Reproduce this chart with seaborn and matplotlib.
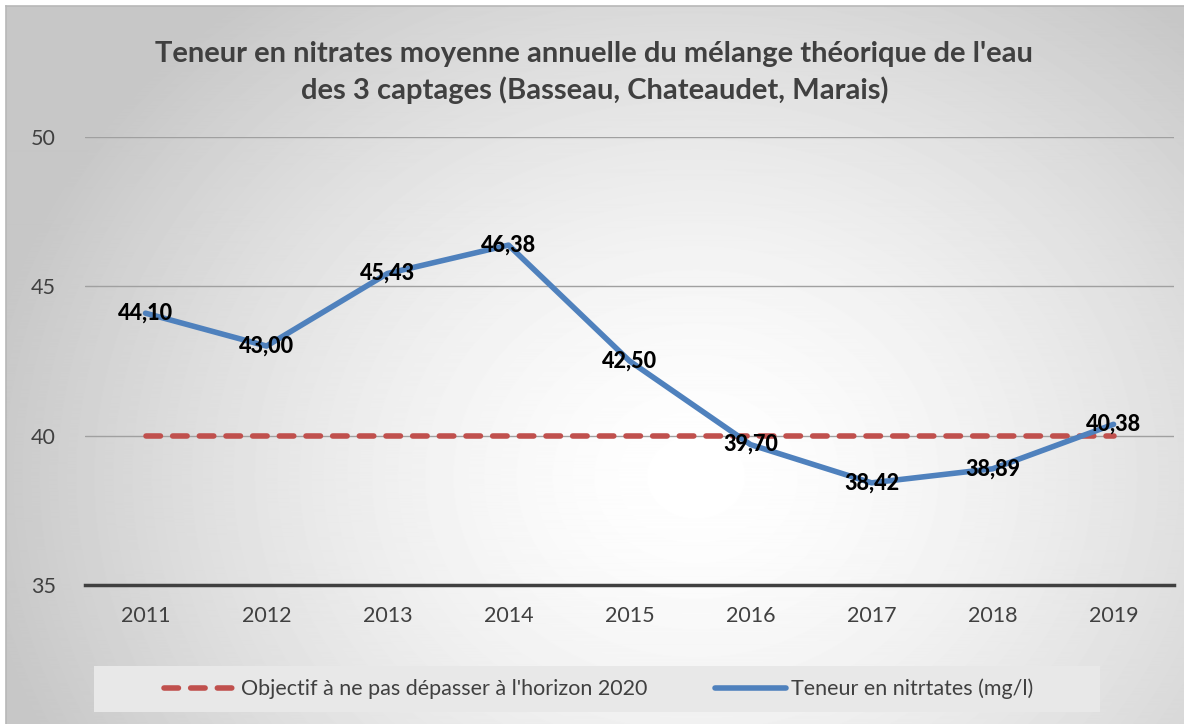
import numpy as np
import pandas as pd
import matplotlib.pyplot as plt
import seaborn as sns
from matplotlib.lines import Line2D
from matplotlib.patches import Rectangle

years = ['2011', '2012', '2013', '2014', '2015', '2016', '2017', '2018', '2019']
nitrates = [44.10, 43.00, 45.43, 46.38, 42.50, 39.70, 38.42, 38.89, 40.38]
objectif = [40, 40, 40, 40, 40, 40, 40, 40, 40]
yticks = [35, 40, 45, 50]

lbl_obj = "Objectif à ne pas dépasser à l'horizon 2020"
lbl_nit = "Teneur en nitrtates (mg/l)"
title = ("Teneur en nitrates moyenne annuelle du mélange théorique de l'eau\n"
         "des 3 captages (Basseau, Chateaudet, Marais)")

df = pd.DataFrame({'annee': years, 'nitrates': nitrates, 'objectif': objectif})

sns.set_style('white')
plt.rcParams['font.family'] = ['Lato', 'DejaVu Sans']

fig = plt.figure(figsize=(11.84, 7.24), dpi=100)

# fond dégradé radial (style Excel)
bg = fig.add_axes([0.005, -0.01, 1.0, 1.0017], zorder=-5)
yy, xx = np.mgrid[0:724, 0:1184]
d = np.hypot((xx - 690) / 1.0, (yy - 470) / 0.85)
g = 1.0 - 0.22 * np.clip(d / 720, 0, 1) ** 1.5
bg.imshow(g, cmap='gray', vmin=0, vmax=1, aspect='auto',
          extent=[0, 1, 0, 1], origin='upper')
bg.set_xticks([]); bg.set_yticks([])
for s in bg.spines.values():
    s.set_color('#b8b8b8')
    s.set_linewidth(1.2)

# fond de la légende
fig.patches.append(Rectangle((94 / 1184, 1 - 712 / 724), 1006 / 1184, 46 / 724,
                             transform=fig.transFigure, facecolor='#e8e8e8',
                             edgecolor='none', zorder=-1))

ax = fig.add_axes([0.0718, 0.192, 0.9198, 0.6188])
ax.patch.set_alpha(0)

LW = 4.0
sns.lineplot(data=df, x='annee', y='objectif', ax=ax, color='#c0504d',
             lw=LW, solid_capstyle='round', dash_capstyle='round',
             dashes=False, label=lbl_obj, zorder=3)
ax.lines[-1].set_dashes((2.6, 2.2))
sns.lineplot(data=df, x='annee', y='nitrates', ax=ax, color='#4f81bd',
             lw=LW, solid_capstyle='round', label=lbl_nit, zorder=4)

for i, v in enumerate(nitrates):
    ax.text(i, v, f'{v:.2f}'.replace('.', ','), ha='center', va='center',
            fontsize=15.5, fontweight='black', color='black', zorder=5)

ax.set_xlim(-0.5, len(years) - 0.5)
ax.set_ylim(35, 50)
ax.set_yticks(yticks)
ax.grid(axis='y', color='#a0a0a0', lw=1)
ax.set_axisbelow(True)
for s in ['top', 'right', 'left']:
    ax.spines[s].set_visible(False)
ax.spines['bottom'].set_color('#404040')
ax.spines['bottom'].set_linewidth(2.5)
ax.spines['bottom'].set_zorder(6)
ax.tick_params(axis='both', length=0, labelsize=15.5, colors='#404040')
ax.tick_params(axis='y', pad=21)
ax.tick_params(axis='x', pad=15)
ax.set_xlabel('')
ax.set_ylabel('')

ax.legend_.remove()
handles = [Line2D([], [], color='#c0504d', lw=LW, dashes=(2.6, 2.2),
                  dash_capstyle='round'),
           Line2D([], [], color='#4f81bd', lw=LW, solid_capstyle='round')]
leg = fig.legend(handles, [lbl_obj, lbl_nit], loc='center',
                 bbox_to_anchor=(0.506, 0.0485), ncol=2, frameon=False,
                 fontsize=15.5, handlelength=3.3, handletextpad=0.25,
                 columnspacing=3.15, borderpad=0.5, borderaxespad=0)
for t in leg.get_texts():
    t.set_color('#404040')

fig.text(0.502, 0.9, title, ha='center', va='center', fontsize=21,
         fontweight='bold', color='#404040', linespacing=1.45)

plt.savefig('out.png', dpi=100)
